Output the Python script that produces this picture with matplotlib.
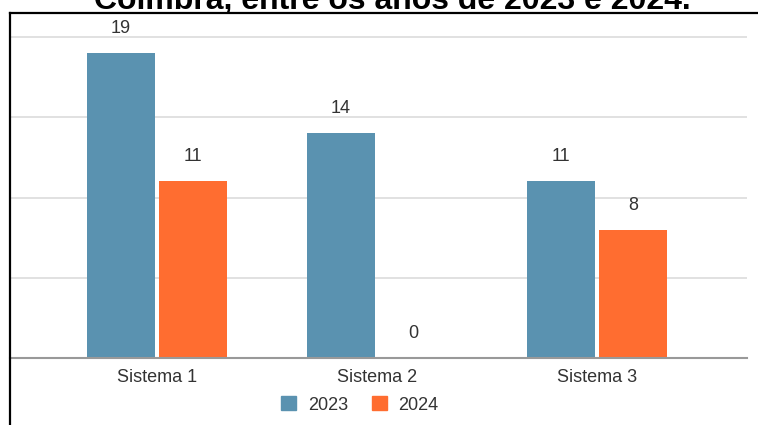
import matplotlib
matplotlib.use("Agg")
import matplotlib.pyplot as plt
from matplotlib.lines import Line2D
from matplotlib.patches import Patch
import numpy as np

plt.rcParams['font.family'] = ['Liberation Sans', 'DejaVu Sans']

categories = ["Sistema 1", "Sistema 2", "Sistema 3"]
series_names = ["2023", "2024"]
values_2023 = [19, 14, 11]
values_2024 = [11, 0, 8]
title = "Coimbra, entre os anos de 2023 e 2024."

colors = ["#5A92B0", "#FF6D30"]
W, H = 758, 425
fig = plt.figure(figsize=(W / 100, H / 100), dpi=100)
ax = fig.add_axes([10 / W, (H - 358) / H, (747 - 10) / W, (358 - 15) / H])

x = np.arange(len(categories))
bw = 0.31
off = 0.1636
fs = 13
txtcol = "#333333"
for vals, o, c in [(values_2023, -off, colors[0]), (values_2024, off, colors[1])]:
    bars = ax.bar(x + o, vals, width=bw, color=c, zorder=3)
    for b, v in zip(bars, vals):
        ax.annotate(str(v), (b.get_x() + b.get_width() / 2, v), xytext=(0, 14.4),
                    textcoords="offset points", ha="center", va="baseline",
                    fontsize=fs, color=txtcol)

ax.set_xlim(-(157 - 10) / 220, 2 + (747 - 597) / 220)
ax.set_ylim(0, 20 * (358 - 15) / (358 - 37))
ax.set_yticks([5, 10, 15, 20])
ax.yaxis.grid(True, color="#dcdcdc", linewidth=1.2, zorder=0)
ax.set_yticklabels([])
ax.tick_params(axis="y", length=0)
ax.set_xticks(x)
ax.set_xticklabels(categories, fontsize=fs, color=txtcol)
ax.tick_params(axis="x", length=0, pad=8)
for s in ["top", "right", "left"]:
    ax.spines[s].set_visible(False)
ax.spines["bottom"].set_color("#999999")
ax.spines["bottom"].set_linewidth(1.5)
ax.spines["bottom"].set_zorder(4)

handles = [Patch(color=colors[0]), Patch(color=colors[1])]
fig.legend(handles, series_names, loc="center", bbox_to_anchor=(360 / W, 1 - 405 / H),
           ncol=2, frameon=False, fontsize=fs, handlelength=0.83, handleheight=0.83,
           handletextpad=0.65, columnspacing=1.3, labelcolor=txtcol)

# outer frame
fig.add_artist(Line2D([9.5 / W, 1.0], [1 - 12.5 / H, 1 - 12.5 / H], transform=fig.transFigure,
                      color="black", linewidth=1.6))
fig.add_artist(Line2D([9.5 / W, 9.5 / W], [1 - 12.5 / H, 0], transform=fig.transFigure,
                      color="black", linewidth=1.6))

fig.text(392 / W, 1 - 9 / H, title, ha="center", va="baseline", fontsize=23,
         fontweight="bold", color="black")

fig.savefig("out.png", dpi=100)
